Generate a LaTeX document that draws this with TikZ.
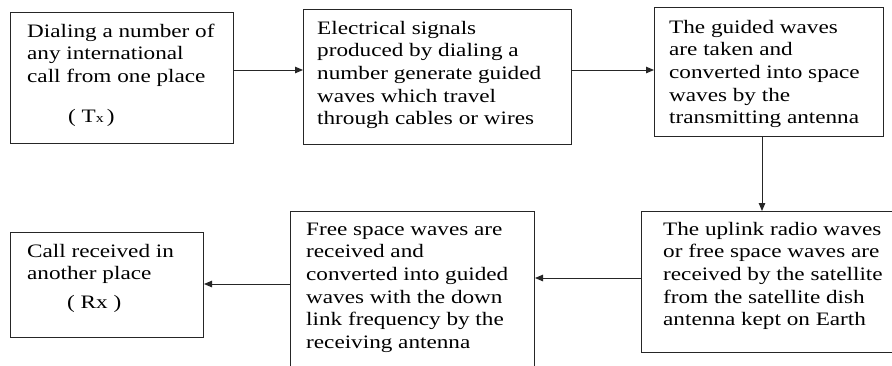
\documentclass[tikz,border=0pt]{standalone}
\usepackage{fontspec}
\setmainfont{Liberation Serif}[FakeStretch=1.22]
\usetikzlibrary{arrows.meta}
\newcommand{\topstrut}{\rule{0pt}{16pt}}
\tikzset{
  box/.style={draw=black!85, line width=1pt, anchor=north west, inner sep=0pt, minimum width=#1},
  txt/.style={anchor=north west, align=left, inner sep=0pt, text=black,
    font=\fontsize{19}{22.6}\selectfont},
  arr/.style={draw=black!85, line width=1pt, -{Triangle[length=8pt,width=6.5pt]}}
}
\begin{document}
\begin{tikzpicture}[x=1pt,y=-1pt]
\clip (0,0) rectangle (892,365);
\fill[white] (0,0) rectangle (892,365);
% boxes
\node[box=223pt, minimum height=131pt] (b1) at (10,12) {};
\node[box=268pt, minimum height=135pt] (b2) at (303,9) {};
\node[box=229pt, minimum height=129pt] (b3) at (654,7) {};
\node[box=270pt, minimum height=141pt] (b4) at (641,211) {};
\node[box=244pt, minimum height=170pt] (b5) at (290,211) {};
\node[box=193pt, minimum height=105pt] (b6) at (10,232) {};
% texts (first baseline = y + 16)
\node[txt] (t1) at (27,21) {\topstrut Dialing a number of\\any international\\call from one place};
\node[txt] (t1b) at (68,106) {\topstrut(\ T{\fontsize{13}{13}\selectfont x}\,)};
\node[txt] (t2) at (317,18) {\topstrut Electrical signals\\produced by dialing a\\number generate guided\\waves which travel\\through cables or wires};
\node[txt] (t3) at (669,17) {\topstrut The guided waves\\are taken and\\converted into space\\waves by the\\transmitting antenna};
\node[txt] (t4) at (663,219) {\topstrut The uplink radio waves\\or free space waves are\\received by the satellite\\from the satellite dish\\antenna kept on Earth};
\node[txt] (t5) at (306,219) {\topstrut Free space waves are\\received and\\converted into guided\\waves with the down\\link frequency by the\\receiving antenna};
\node[txt] (t6) at (27,241) {\topstrut Call received in\\another place};
\node[txt] (t6b) at (67,292) {\topstrut(\ Rx\ )};
% connectors
\coordinate (ya) at (0,70);
\coordinate (xv) at (762,0);
\coordinate (yb) at (0,278);
\coordinate (yc) at (0,284);
\draw[arr] (b1.east |- ya) -- (b2.west |- ya);
\draw[arr] (b2.east |- ya) -- (b3.west |- ya);
\draw[arr] (b3.south -| xv) -- (b4.north -| xv);
\draw[arr] (b4.west |- yb) -- (b5.east |- yb);
\draw[arr] (b5.west |- yc) -- (b6.east |- yc);
\end{tikzpicture}
\end{document}
